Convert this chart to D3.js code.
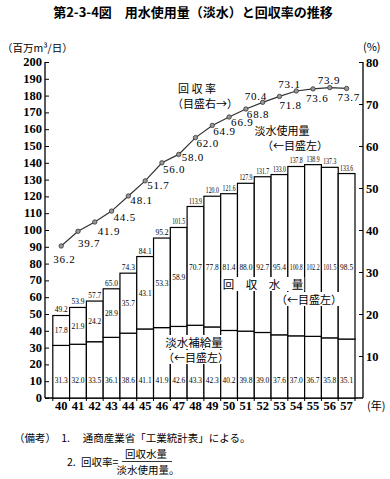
<!DOCTYPE html>
<html><head><meta charset="utf-8">
<script src="https://cdn.jsdelivr.net/npm/d3@7"></script>
<style>
body{margin:0;background:#fff;}
svg{display:block;}
.cjk{font-family:"Noto Sans CJK JP",sans-serif;}
.num{font-family:"Liberation Serif",serif;}
</style>
</head><body>
<svg id="c" width="390" height="479"></svg>
<script>
const years = ["40","41","42","43","44","45","46","47","48","49","50","51","52","53","54","55","56","57"];
const supply = [31.3,32.0,33.5,36.1,38.6,41.1,41.9,42.6,43.3,42.3,40.2,39.8,39.0,37.6,37.0,36.7,35.8,35.1];
const recovered = [17.8,21.9,24.2,28.9,35.7,43.1,53.3,58.9,70.7,77.8,81.4,88.0,92.7,95.4,100.8,102.2,101.5,98.5];
const total = [49.2,53.9,57.7,65.0,74.3,84.1,95.2,101.5,113.9,120.0,121.6,127.9,131.7,133.0,137.8,138.9,137.3,133.6];
const rate = [36.2,39.7,41.9,44.5,48.1,51.7,56.0,58.0,62.0,64.9,66.9,68.8,70.4,71.8,73.1,73.6,73.9,73.7];
const leftTicks = d3.range(0,201,10);
const rightTicks = [10,20,30,40,50,60,70,80];
// label offsets for the rate values (dx, dy) relative to point
const rateLabelPos = [[-8,13],[0,12],[3,9],[2,6],[2,4],[2,4],[1,6],[3,3],[1,5],[1,6],[2,5],[1,5],[-18,-6],[0,9],[-18,-7],[-7,9],[-12,-8],[-9,9]];

const svg = d3.select("#c");
const x = d3.scaleBand().domain(years).range([52.8,355]).padding(0);
const yL = d3.scaleLinear().domain([0,200]).range([398,62]);
const yR = d3.scaleLinear().domain([0,80]).range([398,62]);

// title
svg.append("text").attr("class","cjk").attr("x",193).attr("y",17).attr("text-anchor","middle")
  .attr("font-size",13).attr("font-weight","bold").attr("xml:space","preserve")
  .text("第2-3-4図　用水使用量（淡水）と回収率の推移");

svg.append("text").attr("class","cjk").attr("x",2).attr("y",52).attr("font-size",10.5)
  .text("（百万m³/日）");
svg.append("text").attr("class","cjk").attr("x",363).attr("y",51).attr("font-size",11)
  .text("(%)");

// left axis
const gL = svg.append("g").attr("transform","translate(45,0)");
gL.call(d3.axisRight(yL).tickValues(leftTicks).tickSize(4).tickFormat(""));
gL.select(".domain").attr("d","M0,62V398").attr("stroke","#000").attr("stroke-width",1.3);
gL.selectAll(".tick line").attr("stroke","#000");
svg.append("g").selectAll("text").data(leftTicks).join("text").attr("class","num")
  .attr("x",42).attr("y",d=>yL(d)+4).attr("text-anchor","end").attr("font-size",12.5).attr("font-weight","bold")
  .text(d=>d);

// right axis
const gR = svg.append("g").attr("transform","translate(363,0)");
gR.call(d3.axisLeft(yR).tickValues(rightTicks).tickSize(4).tickFormat(""));
gR.select(".domain").attr("d","M0,62V398").attr("stroke","#000").attr("stroke-width",1.3);
gR.selectAll(".tick line").attr("stroke","#000");
svg.append("g").selectAll("text").data(rightTicks).join("text").attr("class","num")
  .attr("x",366).attr("y",d=>yR(d)+5).attr("font-size",12.5).attr("font-weight","bold")
  .text(d=>d);

// baseline with ticks
svg.append("line").attr("x1",45).attr("x2",363).attr("y1",398).attr("y2",398).attr("stroke","#000").attr("stroke-width",1.3);
svg.append("g").selectAll("line").data(years).join("line")
  .attr("x1",d=>x(d)).attr("x2",d=>x(d)).attr("y1",398).attr("y2",401).attr("stroke","#000");
svg.append("line").attr("x1",x("57")+x.bandwidth()).attr("x2",x("57")+x.bandwidth()).attr("y1",398).attr("y2",401).attr("stroke","#000");

// bars
const bars = svg.append("g");
years.forEach((yr,i)=>{
  bars.append("rect").attr("x",x(yr)).attr("width",x.bandwidth()).attr("y",yL(supply[i])).attr("height",yL(0)-yL(supply[i]))
    .attr("fill","#fff").attr("stroke","#000").attr("stroke-width",1.2);
  bars.append("rect").attr("x",x(yr)).attr("width",x.bandwidth()).attr("y",yL(supply[i]+recovered[i])).attr("height",yL(0)-yL(recovered[i]))
    .attr("fill","#fff").attr("stroke","#000").attr("stroke-width",1.2);
});

function small(g, txt, cx, cy){
  const gg = g.append("g").attr("transform",`translate(${cx},${cy})`);
  const t = gg.append("text").attr("class","num").attr("x",0).attr("y",0).attr("text-anchor","middle")
    .attr("font-size",8.5).text(txt);
  const w = t.node().getComputedTextLength();
  if (w > 13) gg.attr("transform",`translate(${cx},${cy}) scale(${13/w},1)`);
}
const lbl = svg.append("g");
years.forEach((yr,i)=>{
  const cx = x(yr)+x.bandwidth()/2;
  small(lbl, total[i].toFixed(1), cx, yL(total[i])-3);
  const mid = (yL(supply[i]) + yL(supply[i]+recovered[i]))/2;
  small(lbl, recovered[i].toFixed(1), cx, Math.max(mid,267)+3);
  small(lbl, supply[i].toFixed(1), cx, 383);
});

// year labels
svg.append("g").selectAll("text").data(years).join("text").attr("class","num")
  .attr("x",d=>x(d)+x.bandwidth()/2).attr("y",410).attr("text-anchor","middle")
  .attr("font-size",12.5).attr("font-weight","bold").text(d=>d);
svg.append("text").attr("class","cjk").attr("x",367).attr("y",410).attr("font-size",11).text("(年)");

// rate line
const line = d3.line().x((d,i)=>x(years[i])+x.bandwidth()/2).y(d=>yR(d));
svg.append("path").datum(rate).attr("d",line).attr("fill","none").attr("stroke","#333").attr("stroke-width",1.2);
svg.append("g").selectAll("circle").data(rate).join("circle")
  .attr("cx",(d,i)=>x(years[i])+x.bandwidth()/2).attr("cy",d=>yR(d)).attr("r",2.2)
  .attr("fill","#999").attr("stroke","#333").attr("stroke-width",0.8);
svg.append("g").selectAll("text").data(rate).join("text").attr("class","num")
  .attr("x",(d,i)=>x(years[i])+x.bandwidth()/2+rateLabelPos[i][0])
  .attr("y",(d,i)=>yR(d)+rateLabelPos[i][1]+4)
  .attr("font-size",11).attr("letter-spacing",0.8).text(d=>d.toFixed(1));

// annotations
function note(txt, cx, cy, size, bg){
  const g = svg.append("g");
  const t = g.append("text").attr("class","cjk").attr("x",cx).attr("y",cy).attr("text-anchor","middle")
    .attr("font-size",size).attr("xml:space","preserve").text(txt);
  if (bg){
    const b = t.node().getBBox();
    g.insert("rect","text").attr("x",b.x-1).attr("y",b.y+1).attr("width",b.width+2).attr("height",b.height-2).attr("fill","#fff");
  }
}
note("回 収 率", 197, 93, 11, false);
note("（目盛右→）", 205, 108, 11, false);
note("淡水使用量", 282, 135, 11, false);
note("（←目盛左）", 295, 150, 11, false);
note("回　収　水　量", 263, 289, 11.5, true);
note("（←目盛左）", 309, 304, 11, true);
note("淡水補給量", 194, 347, 11.5, true);
note("（←目盛左）", 196, 362, 11, true);

// footnotes
svg.append("text").attr("class","cjk").attr("x",14).attr("y",442).attr("font-size",10.5).attr("xml:space","preserve")
  .text("（備考）　1.　 通商産業省「工業統計表」による。");
svg.append("text").attr("class","cjk").attr("x",67).attr("y",466).attr("font-size",10.5).text("2.");
svg.append("text").attr("class","cjk").attr("x",81).attr("y",466).attr("font-size",10.5).text("回収率=");
svg.append("text").attr("class","cjk").attr("x",146).attr("y",458).attr("text-anchor","middle").attr("font-size",10.5).text("回収水量");
svg.append("line").attr("x1",122).attr("x2",172).attr("y1",461.5).attr("y2",461.5).attr("stroke","#000").attr("stroke-width",0.8);
svg.append("text").attr("class","cjk").attr("x",148).attr("y",474).attr("text-anchor","middle").attr("font-size",10.5).text("淡水使用量。");
</script>
</body></html>
